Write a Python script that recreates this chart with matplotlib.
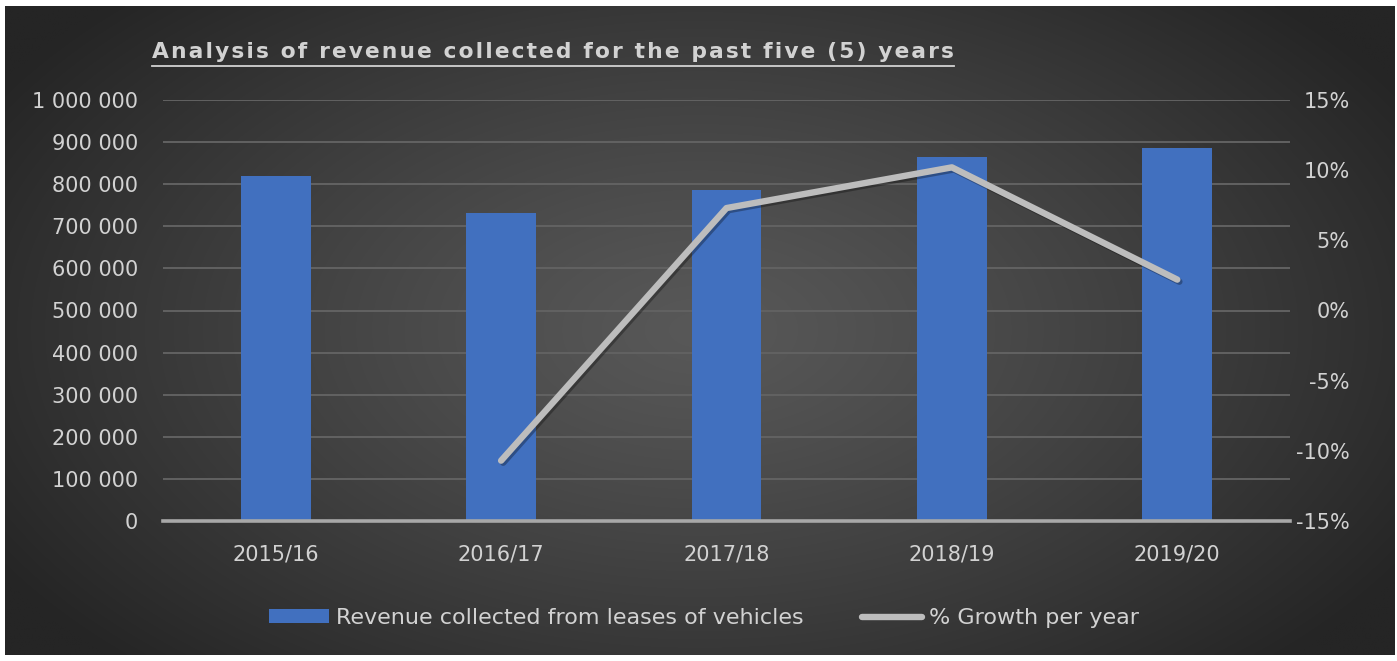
import numpy as np
import matplotlib
matplotlib.use("Agg")
import matplotlib.pyplot as plt
import matplotlib.patheffects as pe
from matplotlib.ticker import FuncFormatter, MultipleLocator
from matplotlib.lines import Line2D
from matplotlib.patches import Patch

# ---- data ----
years = ["2015/16", "2016/17", "2017/18", "2018/19", "2019/20"]
revenue = [819000, 732000, 786000, 865000, 885000]
growth_pct = [np.nan, -10.7, 7.3, 10.2, 2.2]

title = "Analysis of revenue collected for the past five (5) years"
bar_label = "Revenue collected from leases of vehicles"
line_label = "% Growth per year"

# ---- styling ----
W, H = 1397, 661
DPI = 100
BAR_COLOR = "#4170bf"
LINE_COLOR = "#bdbdbd"
TEXT_COLOR = "#d2d2d2"
GRID_COLOR = "#626262"
AXIS_COLOR = "#a8a8a8"
FONT = "DejaVu Sans"
FS = 15
LEG_FS = 16

plt.rcParams["font.family"] = [FONT]

fig = plt.figure(figsize=(W / DPI, H / DPI), dpi=DPI, facecolor="white")


def fx(px):
    return px / W


def fy(py):
    return 1 - py / H


# dark radial-gradient chart area
bg = fig.add_axes([fx(5), fy(655), fx(1395) - fx(5), fy(6) - fy(655)])
bg.set_axis_off()
gx = np.linspace(5, 1395, 700)
gy = np.linspace(6, 655, 330)
GX, GY = np.meshgrid(gx, gy)
r = np.sqrt(((GX - 700) / 820) ** 2 + ((GY - 330) / 470) ** 2)
t = np.clip(r, 0, 1) ** 1.2
c_in = np.array([0x58, 0x58, 0x58]) / 255
c_out = np.array([0x25, 0x25, 0x25]) / 255
img = c_in[None, None, :] * (1 - t[..., None]) + c_out[None, None, :] * t[..., None]
bg.imshow(img, aspect="auto", extent=[0, 1, 0, 1], interpolation="bilinear")
bg.set_xlim(0, 1)
bg.set_ylim(0, 1)

# main plot area
ax = fig.add_axes([fx(163), fy(521), fx(1290) - fx(163), fy(100) - fy(521)])
ax.set_facecolor("none")
x = np.arange(len(years))
ax.bar(x, revenue, width=0.31, color=BAR_COLOR, zorder=2)
ax.set_xlim(-0.5, len(years) - 0.5)
ax.set_ylim(0, 1_000_000)
ax.yaxis.set_major_locator(MultipleLocator(100_000))
ax.yaxis.set_major_formatter(FuncFormatter(lambda v, _: f"{v:,.0f}".replace(",", " ")))
ax.set_xticks(x)
ax.set_xticklabels(years)
ax.grid(axis="y", color=GRID_COLOR, linewidth=1.4, zorder=0)
ax.set_axisbelow(True)
for side in ("top", "right", "left"):
    ax.spines[side].set_visible(False)
ax.spines["bottom"].set_color(AXIS_COLOR)
ax.spines["bottom"].set_linewidth(2.6)
ax.spines["bottom"].set_zorder(3)
ax.tick_params(axis="both", length=0, colors=TEXT_COLOR, labelsize=FS)
ax.tick_params(axis="y", pad=18)
ax.tick_params(axis="x", pad=17)

# growth line on secondary axis
ax2 = ax.twinx()
ax2.set_ylim(-15, 15)
ax2.yaxis.set_major_locator(MultipleLocator(5))
ax2.yaxis.set_major_formatter(FuncFormatter(lambda v, _: f"{v:.0f}%"))
for side in ("top", "right", "left", "bottom"):
    ax2.spines[side].set_visible(False)
ax2.tick_params(axis="y", length=0, colors=TEXT_COLOR, labelsize=FS, pad=43)
for lab in ax2.get_yticklabels():
    lab.set_horizontalalignment("right")
ax2.plot(x, growth_pct, color=LINE_COLOR, linewidth=4.6,
         solid_capstyle="round", solid_joinstyle="round", zorder=4,
         path_effects=[pe.SimpleLineShadow(offset=(1.5, -1.5), shadow_color="black", alpha=0.3),
                       pe.Normal()])

# title with letter spacing and underline
spaced = "\u200a".join(title)
tt = fig.text(fx(152), fy(52), spaced, color=TEXT_COLOR, fontsize=15.7, fontweight="bold",
              ha="left", va="center")
fig.canvas.draw()
bb = tt.get_window_extent()
fig.add_artist(Line2D([bb.x0 / W, bb.x1 / W], [fy(66), fy(66)], color=TEXT_COLOR,
                      linewidth=1.3, transform=fig.transFigure))

# legend
handles = [Patch(facecolor=BAR_COLOR, edgecolor="none"),
           Line2D([], [], color=LINE_COLOR, linewidth=4.6, solid_capstyle="round")]
fig.legend(handles, [bar_label, line_label], loc="center",
           bbox_to_anchor=(fx(704), fy(618)), ncol=2, frameon=False,
           fontsize=LEG_FS, labelcolor=TEXT_COLOR, handlelength=2.7, handleheight=0.55,
           handletextpad=0.35, columnspacing=2.6)

fig.savefig("out.png", dpi=DPI, facecolor="white")
